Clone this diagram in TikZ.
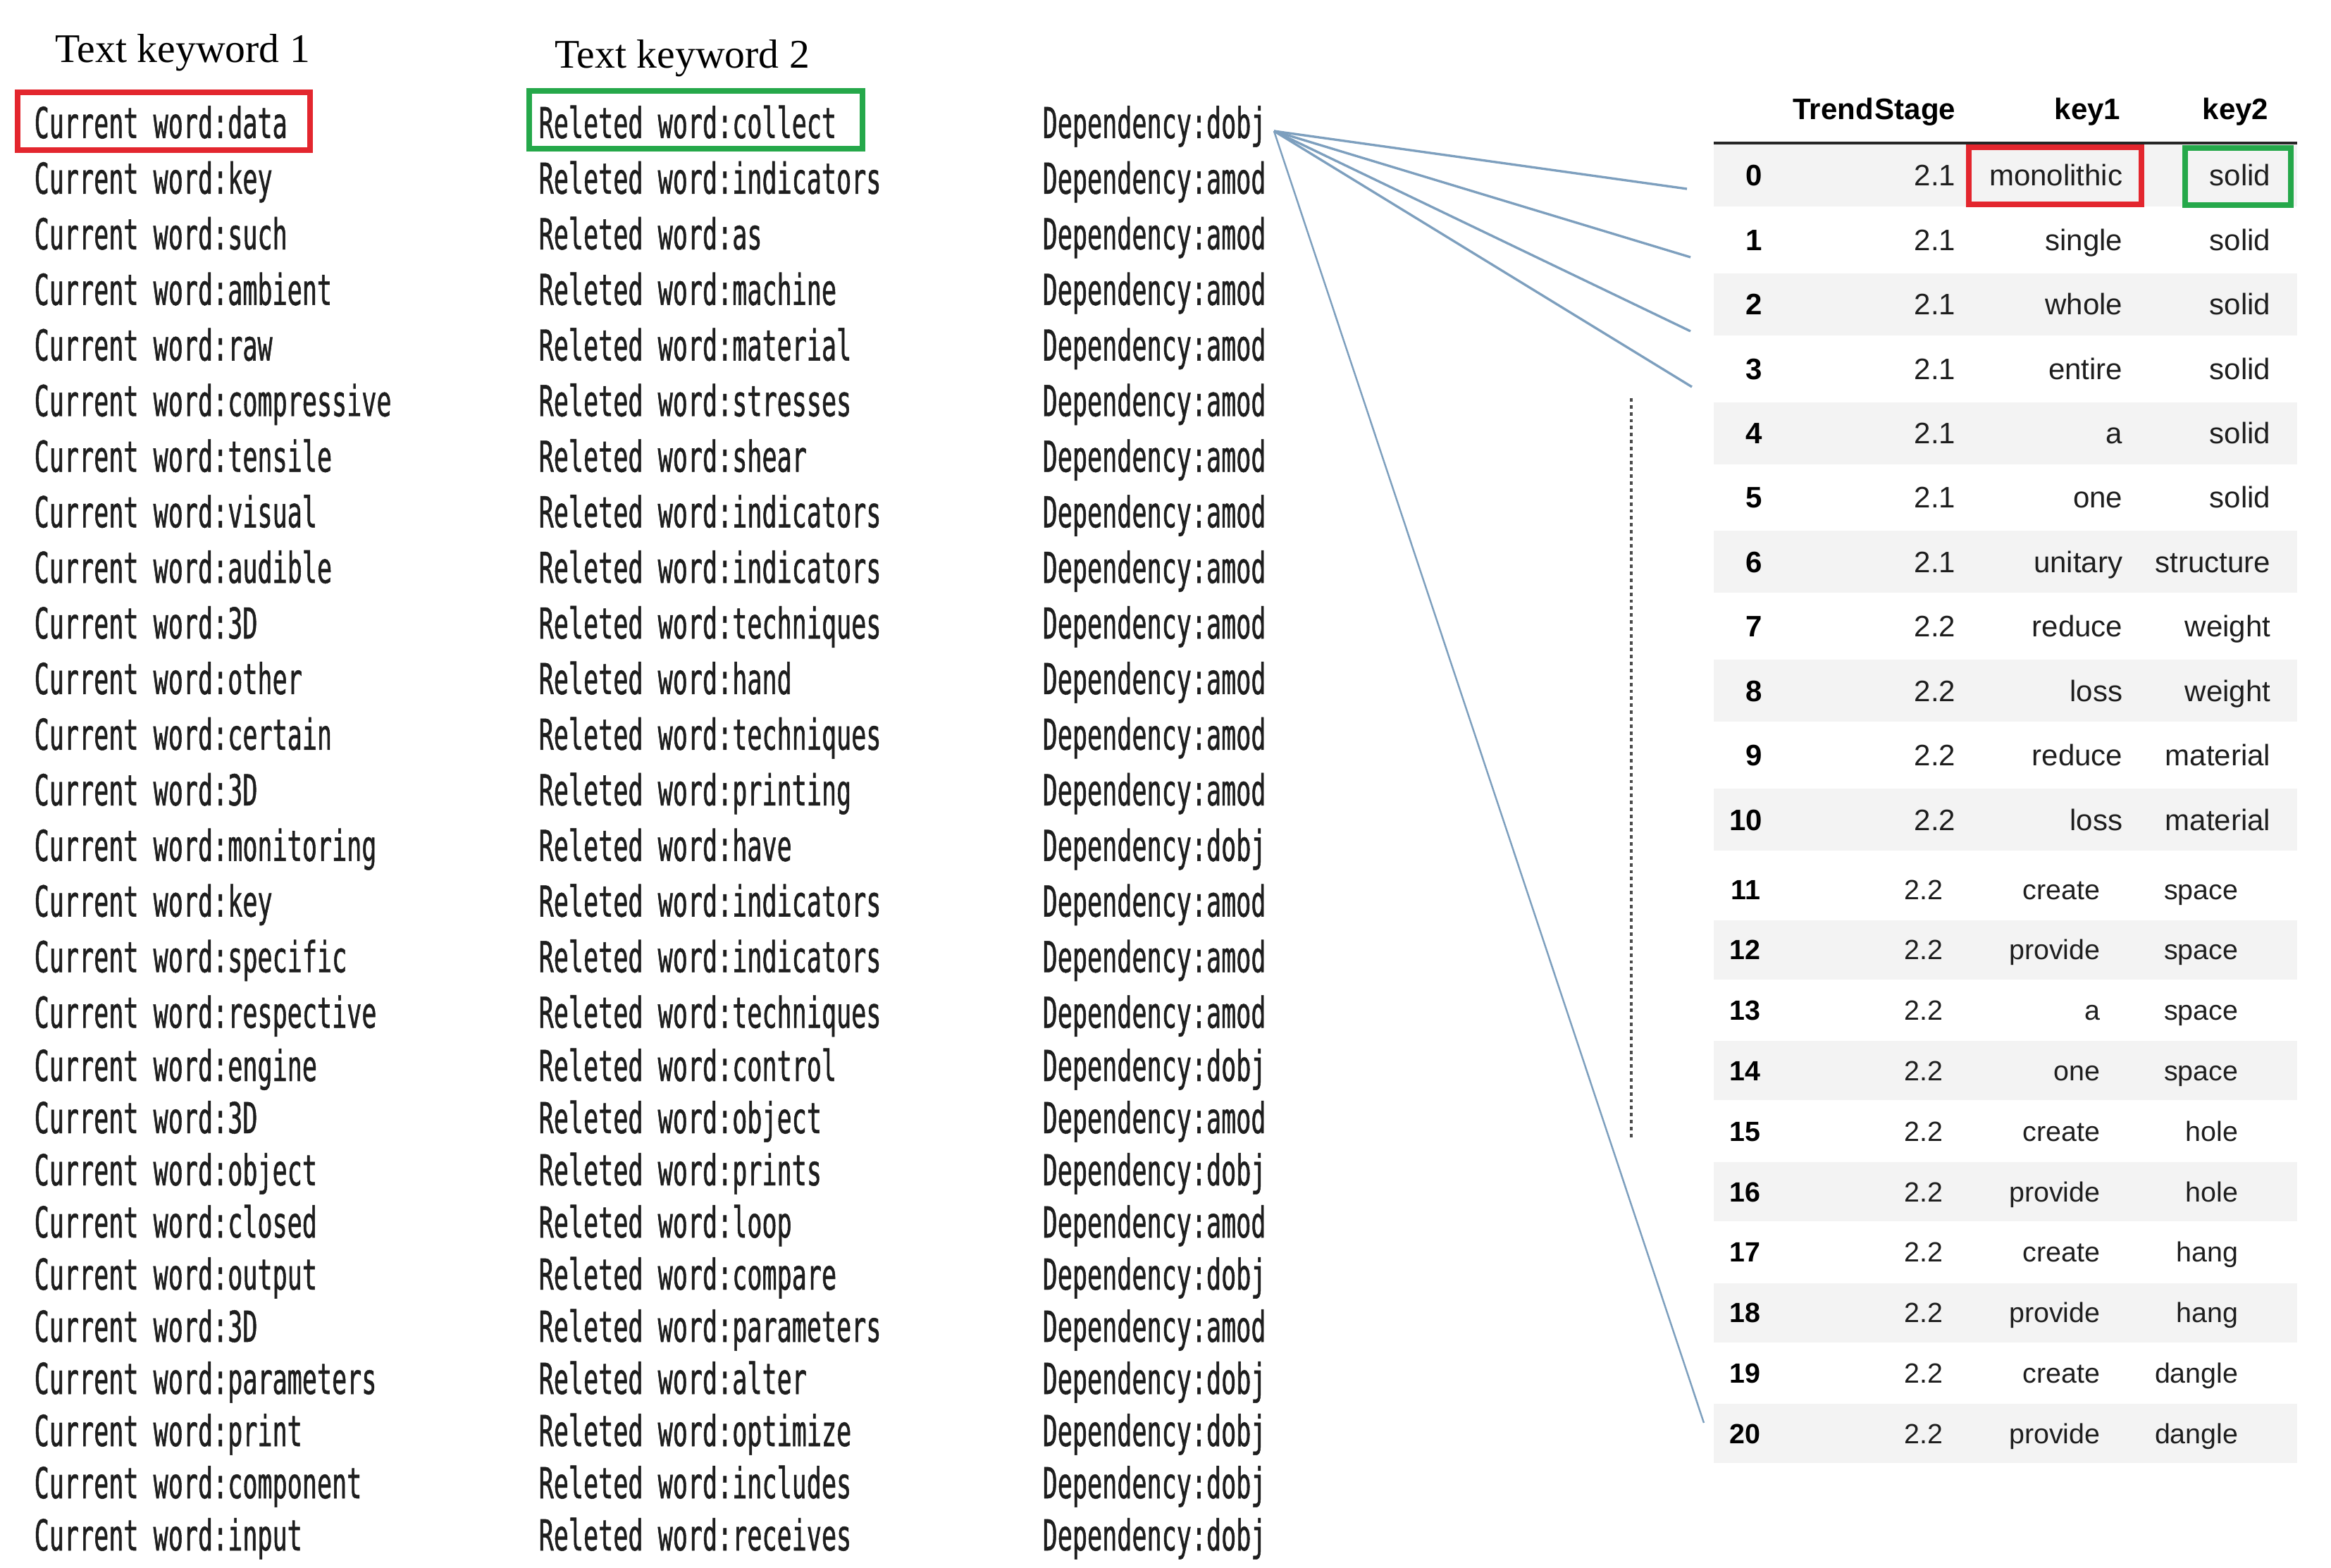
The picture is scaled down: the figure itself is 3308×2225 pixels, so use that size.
\documentclass[tikz,border=0pt]{standalone}
\usepackage{fontspec}
\setmainfont{Liberation Serif}
\newfontfamily\monof[FakeStretch=0.58,FakeBold=0.8]{DejaVu Sans Mono}
\newfontfamily\tabf{Liberation Sans}
\definecolor{boxred}{HTML}{E3262E}
\definecolor{boxgreen}{HTML}{25A84A}
\definecolor{linkblue}{HTML}{7D9FBE}
\definecolor{bandgray}{HTML}{F3F3F3}
\definecolor{txt}{HTML}{1E1E1E}
\newcommand\mymono{\monof\fontsize{17.2pt}{20pt}\selectfont}
\newcommand\tabup{\tabf\fontsize{11.95pt}{14pt}\selectfont}
\newcommand\tablow{\tabf\fontsize{11.2pt}{13pt}\selectfont}
\begin{document}
\begin{tikzpicture}[x=0.01cm,y=-0.01cm,
  monotxt/.style={anchor=base west,inner sep=0pt,text=txt,font=\mymono},
  headtxt/.style={anchor=base west,inner sep=0pt,text=black,font=\fontsize{16.4pt}{19pt}\selectfont},
  cellup/.style={anchor=base east,inner sep=0pt,text=txt,font=\tabup},
  idxup/.style={anchor=base east,inner sep=0pt,text=black,font=\tabup\bfseries},
  celllow/.style={anchor=base east,inner sep=0pt,text=txt,font=\tablow},
  idxlow/.style={anchor=base east,inner sep=0pt,text=black,font=\tablow\bfseries},
  redbox/.style={draw=boxred,line width=2.3pt},
  greenbox/.style={draw=boxgreen,line width=2.3pt},
  link/.style={draw=linkblue,line width=0.95pt},
  dotline/.style={draw=black!70,line width=1pt,dash pattern=on 1.4pt off 1.4pt}]
\useasboundingbox (0,0) rectangle (3308,2225);
\fill[white] (0,0) rectangle (3308,2225);

% headings
\node[headtxt] (h1) at (78,89) {Text keyword 1};
\node[headtxt] (h2) at (787,97) {Text keyword 2};

% left columns
\foreach \w [count=\i] in {data,key,such,ambient,raw,compressive,tensile,visual,audible,3D,other,certain,3D,monitoring,key,specific,respective,engine,3D,object,closed,output,3D,parameters,print,component,input}{
  \pgfmathsetmacro\yy{\i<18 ? 196+78.9*(\i-1) : 1534+74*(\i-18)}
  \node[monotxt] (c\i) at (48,\yy) {Current word:\w};
}
\foreach \w [count=\i] in {collect,indicators,as,machine,material,stresses,shear,indicators,indicators,techniques,hand,techniques,printing,have,indicators,indicators,techniques,control,object,prints,loop,compare,parameters,alter,optimize,includes,receives}{
  \pgfmathsetmacro\yy{\i<18 ? 196+78.9*(\i-1) : 1534+74*(\i-18)}
  \node[monotxt] (r\i) at (764,\yy) {Releted word:\w};
}
\foreach \w [count=\i] in {dobj,amod,amod,amod,amod,amod,amod,amod,amod,amod,amod,amod,amod,dobj,amod,amod,amod,dobj,amod,dobj,amod,dobj,amod,dobj,dobj,dobj,dobj}{
  \pgfmathsetmacro\yy{\i<18 ? 196+78.9*(\i-1) : 1534+74*(\i-18)}
  \node[monotxt] (d\i) at (1479,\yy) {Dependency:\w};
}

% highlight boxes (left)
\draw[redbox] (25,131) rectangle (440,213);
\draw[greenbox] (751,129) rectangle (1224,211);

% table: shading bands
\foreach \i in {0,2,4,6,8,10}{
  \pgfmathsetmacro\yc{249+91.4*\i}
  \fill[bandgray] (2432,\yc-44) rectangle (3260,\yc+44);
}
\foreach \i in {12,14,16,18,20}{
  \pgfmathsetmacro\yc{1262+85.8*(\i-11)}
  \fill[bandgray] (2432,\yc-42) rectangle (3260,\yc+42);
}

% table header
\node[idxup] (th1) at (2776,170) {Trend\kern0.05em Stage};
\node[idxup] (th2) at (3010,170) {key1};
\node[idxup] (th3) at (3220,170) {key2};
\draw[black!85,line width=1.2pt] (2432,203) -- (3260,203);

% upper table rows
\foreach \k/\s/\a/\b in {0/2.1/monolithic/solid,1/2.1/single/solid,2/2.1/whole/solid,3/2.1/entire/solid,4/2.1/a/solid,5/2.1/one/solid,6/2.1/unitary/structure,7/2.2/reduce/weight,8/2.2/loss/weight,9/2.2/reduce/material,10/2.2/loss/material}{
  \pgfmathsetmacro\yb{249+91.4*\k+15}
  \node[idxup] (ti\k) at (2502,\yb) {\k};
  \node[cellup] (ts\k) at (2776,\yb) {\s};
  \node[cellup] (ta\k) at (3013,\yb) {\a};
  \node[cellup] (tb\k) at (3223,\yb) {\b};
}
% lower table rows
\foreach \k/\s/\a/\b in {11/2.2/create/space,12/2.2/provide/space,13/2.2/a/space,14/2.2/one/space,15/2.2/create/hole,16/2.2/provide/hole,17/2.2/create/hang,18/2.2/provide/hang,19/2.2/create/dangle,20/2.2/provide/dangle}{
  \pgfmathsetmacro\yb{1262+85.8*(\k-11)+14}
  \node[idxlow] (ti\k) at (2499,\yb) {\k};
  \node[celllow] (ts\k) at (2758,\yb) {\s};
  \node[celllow] (ta\k) at (2981,\yb) {\a};
  \node[celllow] (tb\k) at (3177,\yb) {\b};
}

% highlight boxes (table)
\draw[redbox] (2794,209) rectangle (3039,290);
\draw[greenbox] (3101,210) rectangle (3251,291);

% connectors
\coordinate (src) at (1808,186);
\coordinate (e1) at (2394,268);
\coordinate (e2) at (2399,365);
\coordinate (e3) at (2399,470);
\coordinate (e4) at (2401,549);
\coordinate (e5) at (2418,2019);
\draw[link] (src) -- (e1);
\draw[link] (src) -- (e2);
\draw[link] (src) -- (e3);
\draw[link] (src) -- (e4);
\draw[link,line width=0.7pt] (src) -- (e5);

% dotted vertical line
\coordinate (dt) at (2315,565);
\coordinate (db) at (2315,1617);
\draw[dotline] (dt) -- (db);
\end{tikzpicture}
\end{document}
